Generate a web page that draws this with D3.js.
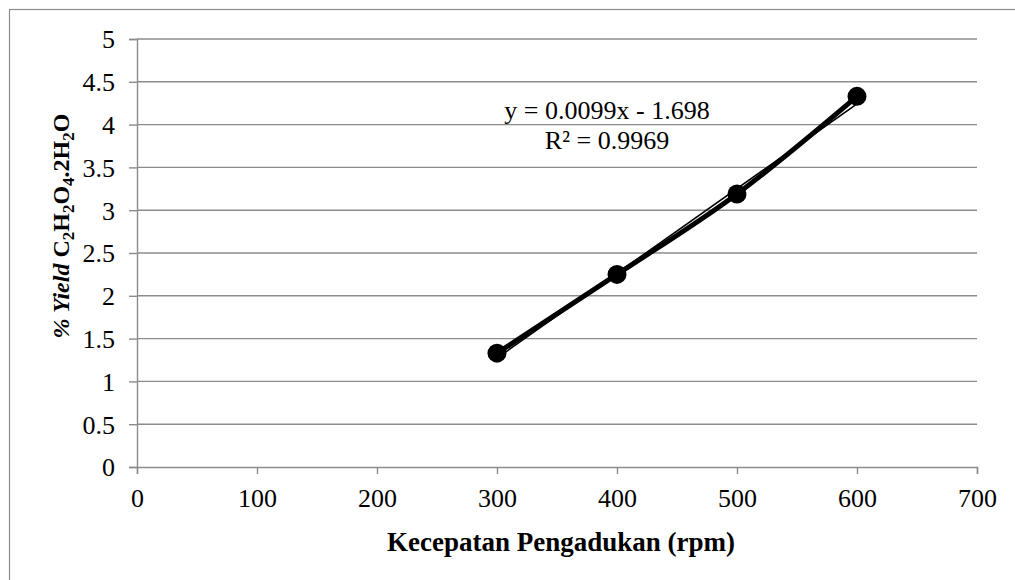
<!DOCTYPE html>
<html>
<head>
<meta charset="utf-8">
<script src="https://cdn.jsdelivr.net/npm/d3@7"></script>
<style>
  body { margin: 0; background: white; }
  svg text { font-family: "Liberation Serif", "DejaVu Serif", "Times New Roman", Times, serif; }
</style>
</head>
<body>
<svg id="chart" width="1015" height="580"></svg>
<script>
// data
const speeds = [300, 400, 500, 600];
const yields = [1.33, 2.25, 3.19, 4.33];
const xTicks = [0, 100, 200, 300, 400, 500, 600, 700];
const yTicks = [0, 0.5, 1, 1.5, 2, 2.5, 3, 3.5, 4, 4.5, 5];
const trendSlope = 0.0099;
const trendIntercept = -1.698;
const trendLabels = ["y = 0.0099x - 1.698", "R\u00b2 = 0.9969"];

const FONT = '"Liberation Serif", "DejaVu Serif", serif';

const COLORS = {
    grid: '#8c8c8c',
    frame: '#8c8c8c',
    ink: 'black'
}

const svg = d3.select('#chart');

// outer chart frame (runs off the right and bottom edge)
svg.append('rect')
    .attr('x', 9.5).attr('y', 9.5)
    .attr('width', 1030).attr('height', 600)
    .attr('fill', 'white')
    .attr('stroke', COLORS.frame)
    .attr('stroke-width', 1.2);

const x = d3.scaleLinear().domain([0, 700]).range([137, 977]);
const y = d3.scaleLinear().domain([0, 5]).range([467, 39]);

// horizontal gridlines
svg.append('g')
    .selectAll('line')
    .data(yTicks.filter(d => d > 0))
    .enter()
    .append('line')
    .attr('x1', x(0)).attr('x2', x(700))
    .attr('y1', d => y(d)).attr('y2', d => y(d))
    .attr('stroke', COLORS.grid)
    .attr('stroke-width', 1.4);

// axes
const xAxis = svg.append('g')
    .attr('transform', 'translate(0,' + y(0) + ')')
    .call(d3.axisBottom(x).tickValues(xTicks).tickSize(7).tickPadding(15).tickFormat(d3.format('d')));

const yAxis = svg.append('g')
    .attr('transform', 'translate(' + x(0) + ',0)')
    .call(d3.axisLeft(y).tickValues(yTicks).tickSize(8).tickPadding(14).tickFormat(d => String(d)));

[xAxis, yAxis].forEach(ax => {
    ax.attr('font-family', FONT).attr('font-size', 26);
    ax.select('.domain').attr('stroke', COLORS.grid).attr('stroke-width', 1.4);
    ax.selectAll('.tick line').attr('stroke', COLORS.grid).attr('stroke-width', 1.4);
    ax.selectAll('.tick text').attr('fill', COLORS.ink);
});
yAxis.selectAll('.tick text').attr('dy', '0.34em');

// trendline over the data range
const trendData = [d3.min(speeds), d3.max(speeds)].map(s => [s, trendSlope * s + trendIntercept]);
svg.append('path')
    .datum(trendData)
    .attr('d', d3.line().x(d => x(d[0])).y(d => y(d[1])))
    .attr('fill', 'none')
    .attr('stroke', COLORS.ink)
    .attr('stroke-width', 1.6);

// data series
const points = speeds.map((s, i) => [s, yields[i]]);
svg.append('path')
    .datum(points)
    .attr('d', d3.line().x(d => x(d[0])).y(d => y(d[1])).curve(d3.curveMonotoneX))
    .attr('fill', 'none')
    .attr('stroke', COLORS.ink)
    .attr('stroke-width', 5);

svg.append('g')
    .selectAll('circle')
    .data(points)
    .enter()
    .append('circle')
    .attr('cx', d => x(d[0]))
    .attr('cy', d => y(d[1]))
    .attr('r', 9.5)
    .attr('fill', COLORS.ink);

// trendline equation
svg.append('g')
    .selectAll('text')
    .data(trendLabels)
    .enter()
    .append('text')
    .attr('x', 607)
    .attr('y', (d, i) => 119 + i * 30)
    .attr('text-anchor', 'middle')
    .attr('font-family', FONT)
    .attr('font-size', 26)
    .text(d => d);

// axis titles
svg.append('text')
    .attr('x', 561)
    .attr('y', 551)
    .attr('text-anchor', 'middle')
    .attr('font-family', FONT)
    .attr('font-size', 27)
    .attr('font-weight', 'bold')
    .text('Kecepatan Pengadukan (rpm)');

const yTitle = svg.append('text')
    .attr('transform', 'translate(69,226) rotate(-90)')
    .attr('text-anchor', 'middle')
    .attr('font-family', FONT)
    .attr('font-size', 24)
    .attr('font-weight', 'bold');

const titleParts = [
    { t: '% ', italic: true },
    { t: 'Yield', italic: true },
    { t: ' C' },
    { t: '2', sub: true },
    { t: 'H' },
    { t: '2', sub: true },
    { t: 'O' },
    { t: '4', sub: true },
    { t: '.2H' },
    { t: '2', sub: true },
    { t: 'O' }
];
titleParts.forEach((p, i) => {
    const ts = yTitle.append('tspan').text(p.t);
    if (p.italic) ts.attr('font-style', 'italic');
    if (p.sub) ts.attr('dy', 5).attr('font-size', 17);
    else if (i > 0 && titleParts[i - 1].sub) ts.attr('dy', -5);
});
</script>
</body>
</html>
